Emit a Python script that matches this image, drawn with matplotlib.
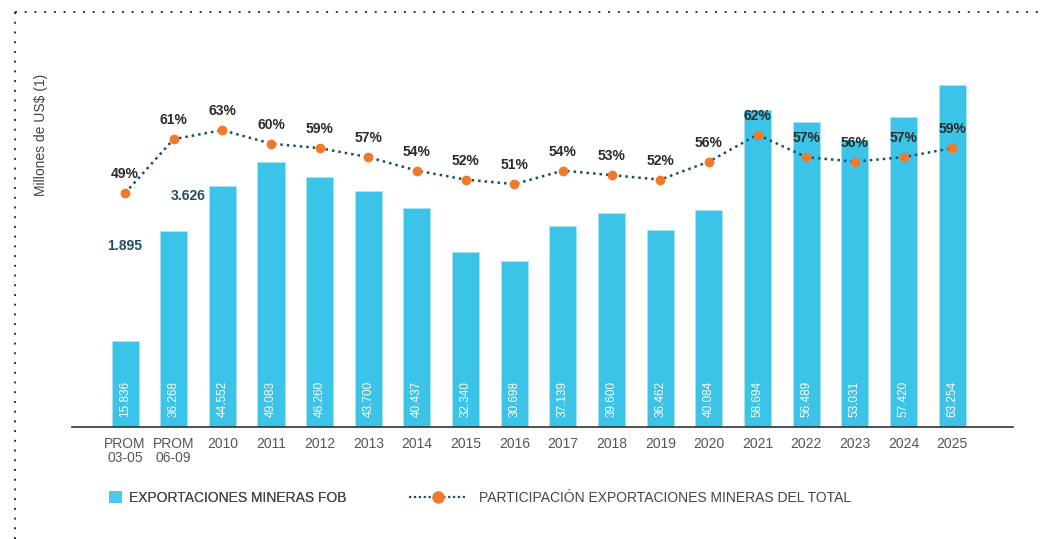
import matplotlib
matplotlib.use("Agg")
import matplotlib.pyplot as plt
from matplotlib.lines import Line2D
from matplotlib.patches import Patch

plt.rcParams['font.family'] = ['Liberation Sans', 'DejaVu Sans']

categories = ["PROM\n03-05", "PROM\n06-09", "2010", "2011", "2012", "2013", "2014", "2015",
              "2016", "2017", "2018", "2019", "2020", "2021", "2022", "2023", "2024", "2025"]
exports = [15836, 36268, 44552, 49083, 46260, 43700, 40437, 32340, 30698, 37139,
           39600, 36462, 40084, 58694, 56489, 53031, 57420, 63254]
share = [49, 61, 63, 60, 59, 57, 54, 52, 51, 54, 53, 52, 56, 62, 57, 56, 57, 59]
bar_labels = ["15.836", "36.268", "44.552", "49.083", "46.260", "43.700", "40.437", "32.340",
              "30.698", "37.139", "39.600", "36.462", "40.084", "58.694", "56.489", "53.031",
              "57.420", "63.254"]
extra_labels = ["1.895", "3.626"]

bar_color = "#3BC4E8"
line_color = "#1B4F6B"
dot_color = "#F07A2A"

fig = plt.figure(figsize=(10.45, 5.39), dpi=100)
W, H = 1045, 539
ax = fig.add_axes([72 / W, 1 - 427 / H, (1013 - 72) / W, (427 - 60) / H])
x = list(range(len(categories)))

ax.bar(x, exports, width=0.555, color=bar_color, edgecolor="#A8E4F5", linewidth=0.6, zorder=2)
ax.set_xlim(-1.09, 18.25)
ax.set_ylim(0, 67877)
for xi, lab in zip(x, bar_labels):
    ax.text(xi, 1800, lab, rotation=90, ha="center", va="bottom", color="white",
            fontsize=8.5, zorder=3)

ax.text(0, 33500, extra_labels[0], ha="center", va="center", color="#1F4E66",
        fontsize=10, fontweight="bold")
ax.text(1.3, 42800, extra_labels[1], ha="center", va="center", color="#1F4E66",
        fontsize=10, fontweight="bold")

for s in ["top", "right", "left"]:
    ax.spines[s].set_visible(False)
ax.spines["bottom"].set_color("#333333")
ax.spines["bottom"].set_linewidth(1.2)
ax.set_yticks([])
ax.set_xticks(x)
ax.set_xticklabels(categories, fontsize=10, color="#555555", linespacing=1.05)
ax.tick_params(axis="x", length=0, pad=7)
ax.set_ylabel("Millones de US$ (1)", fontsize=10, color="#444444")
ax.yaxis.set_label_coords(-0.025, 0.796)

ax2 = ax.twinx()
ax2.set_ylim(-3, 78.6)
ax2.plot(x, share, color=line_color, linestyle=(0, (1, 1.6)), linewidth=1.8, zorder=4)
ax2.plot(x, share, linestyle="none", marker="o", markersize=6, color=dot_color, zorder=5)
for xi, p in zip(x, share):
    ax2.text(xi, p + 2.6, f"{p}%", ha="center", va="bottom", color="#2B2B2B",
             fontsize=10, fontweight="bold", zorder=6)
ax2.axis("off")

leg1 = fig.legend([Patch(facecolor="#4CC8EC", edgecolor="none")], ["EXPORTACIONES MINERAS FOB"],
                  loc="center left", bbox_to_anchor=(109 / W, 1 - 498 / H), frameon=False,
                  fontsize=10, labelcolor="#444444", handlelength=0.9, handleheight=0.9,
                  handletextpad=0.55, borderpad=0, borderaxespad=0)
line_handle = Line2D([0], [0], color=line_color, linestyle=(0, (1, 1.2)), linewidth=1.6,
                     marker="o", markersize=8, markerfacecolor=dot_color, markeredgecolor=dot_color)
fig.legend([line_handle], ["PARTICIPACIÓN EXPORTACIONES MINERAS DEL TOTAL"],
           loc="center left", bbox_to_anchor=(409 / W, 1 - 498 / H), frameon=False,
           fontsize=10, labelcolor="#444444", handlelength=4.2, handletextpad=0.85,
           borderpad=0, borderaxespad=0)
fig.add_artist(leg1)

# dotted frame on top and left
fig.add_artist(Line2D([15 / W, 1.0], [1 - 12 / H, 1 - 12 / H], color="#333333",
                      linestyle=(0, (1, 4)), linewidth=1.4))
fig.add_artist(Line2D([15 / W, 15 / W], [0, 1 - 12 / H], color="#333333",
                      linestyle=(0, (1, 4)), linewidth=1.4))

fig.savefig("out.png", dpi=100)
